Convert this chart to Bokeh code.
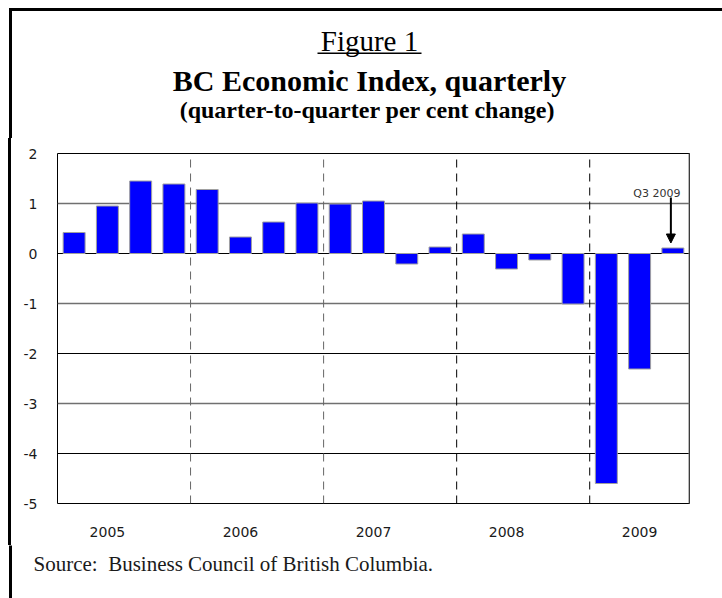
import numpy as np
from bokeh.plotting import figure
from bokeh.layouts import column, row
from bokeh.models import (Range1d, FixedTicker, Grid, Label, Arrow, NormalHead, Span,
                          ColumnDataSource, Div)
from bokeh.core.properties import value
from bokeh.embed import file_html
from bokeh.resources import INLINE

# ---- data ----
years = ["2005", "2006", "2007", "2008", "2009"]
quarters = ["Q1 2005", "Q2 2005", "Q3 2005", "Q4 2005",
            "Q1 2006", "Q2 2006", "Q3 2006", "Q4 2006",
            "Q1 2007", "Q2 2007", "Q3 2007", "Q4 2007",
            "Q1 2008", "Q2 2008", "Q3 2008", "Q4 2008",
            "Q1 2009", "Q2 2009", "Q3 2009"]
values = [0.42, 0.95, 1.45, 1.39,
          1.28, 0.33, 0.63, 1.01,
          0.99, 1.05, -0.21, 0.13,
          0.39, -0.31, -0.13, -1.01,
          -4.60, -2.31, 0.11]
y_ticks = [-5, -4, -3, -2, -1, 0, 1, 2]
y_tick_labels = ["-5", "-4", "-3", "-2", "-1", "0", "1", "2"]

fig_label = "Figure 1"
title_text = "BC Economic Index, quarterly"
subtitle_text = "(quarter-to-quarter per cent change)"
source_text = "Source:\u00a0 Business Council of British Columbia."

n = len(values)
centers = np.arange(n) + 0.5
year_of = [q.split()[1] for q in quarters]
year_starts = [i for i in range(1, n) if year_of[i] != year_of[i - 1]]
year_label_pos = [year_of.index(y) + 1.5 for y in years]

W, H = 722, 598
HEAD_H, FOOT_H = 138, 53
MAIN_H = H - HEAD_H - FOOT_H
STRIP_W = 12
BORDER_X = 10
BORDER_W = 3


def blank(width, height):
    f = figure(width=width, height=height, output_backend="svg", toolbar_location=None,
               x_range=Range1d(0, width), y_range=Range1d(height, 0),
               x_axis_type=None, y_axis_type=None,
               min_border=0, min_border_left=0, min_border_right=0,
               min_border_top=0, min_border_bottom=0,
               background_fill_color="white", border_fill_color="white")
    f.outline_line_color = None
    return f


# ---- header ----
head = blank(W, HEAD_H)
cx = 369
head.text(x=[cx], y=[40], text=[fig_label], text_align="center", text_baseline="alphabetic",
          text_font=value("Liberation Serif"), text_font_size="29px", text_color="black")
head.segment(x0=[cx - 52], x1=[cx + 52], y0=[52.8], y1=[52.8], line_color="black", line_width=1.6)
head.text(x=[cx], y=[79.5], text=[title_text], text_align="center", text_baseline="alphabetic",
          text_font=value("Liberation Serif"), text_font_style="bold",
          text_font_size="30px", text_color="black")
head.text(x=[cx - 2], y=[109.6], text=[subtitle_text], text_align="center",
          text_baseline="alphabetic", text_font=value("Liberation Serif"),
          text_font_style="bold", text_font_size="24px", text_color="black")
head.segment(x0=[BORDER_X - 1.5], x1=[W + 5], y0=[9], y1=[9], line_color="black", line_width=BORDER_W)
head.segment(x0=[BORDER_X], x1=[BORDER_X], y0=[7.5], y1=[HEAD_H + 2], line_color="black",
             line_width=BORDER_W)

# ---- left strip (outer frame edge) ----
g0 = BORDER_X - BORDER_W / 2
g1 = BORDER_X + BORDER_W / 2
strip = Div(text="", width=STRIP_W, height=MAIN_H, margin=0,
            styles={"background": f"linear-gradient(to right, white {g0}px, black {g0}px, "
                                  f"black {g1}px, white {g1}px)"})

# ---- main chart ----
FL, FR, FT, FB = 57 - STRIP_W, 33, 153 - HEAD_H, 95 - FOOT_H
source = ColumnDataSource(dict(x=centers, top=values, q=quarters))

p = figure(width=W - STRIP_W, height=MAIN_H, output_backend="svg", toolbar_location=None,
           x_range=Range1d(0, n), y_range=Range1d(min(y_ticks), max(y_ticks)),
           min_border_left=FL, min_border_right=FR, min_border_top=FT,
           min_border_bottom=FB, background_fill_color="white",
           border_fill_color="white")
p.outline_line_color = "black"
p.outline_line_width = 1
p.xgrid.visible = False
p.ygrid.visible = False

inner = [t for t in y_ticks if min(y_ticks) < t < max(y_ticks)]
gray_ticks = [t for t in inner if t % 2 != 0]
black_ticks = [t for t in inner if t % 2 == 0]
p.add_layout(Grid(dimension=1, ticker=FixedTicker(ticks=gray_ticks),
                  grid_line_color="#707070", grid_line_width=1.5))
p.add_layout(Grid(dimension=1, ticker=FixedTicker(ticks=black_ticks),
                  grid_line_color="black", grid_line_width=1))

ys_lo, ys_hi = min(y_ticks), max(y_ticks)
k = len(year_starts[:2])
p.segment(x0=year_starts[:2], x1=year_starts[:2], y0=[ys_lo] * k, y1=[ys_hi] * k,
          line_color="#666666", line_width=1, line_dash="8 6")
k2 = len(year_starts[2:])
p.segment(x0=year_starts[2:], x1=year_starts[2:], y0=[ys_lo] * k2, y1=[ys_hi] * k2,
          line_color="black", line_width=1, line_dash="8 6")

p.vbar(x="x", top="top", bottom=0, width=0.66, source=source,
       fill_color="#0000ff", line_color="#a0a0a0", line_width=1)

p.add_layout(Span(location=n, dimension="height", line_color="#777777", line_width=2))

p.yaxis.ticker = FixedTicker(ticks=y_ticks)
p.yaxis.major_label_overrides = {t: s for t, s in zip(y_ticks, y_tick_labels)}
p.yaxis.axis_line_color = None
p.yaxis.major_tick_line_color = None
p.yaxis.minor_tick_line_color = None
p.yaxis.major_label_text_font = "DejaVu Sans"
p.yaxis.major_label_text_font_size = "14px"
p.yaxis.major_label_text_color = "#1a1a1a"
p.yaxis.major_label_standoff = 14

p.xaxis.ticker = FixedTicker(ticks=year_label_pos)
p.xaxis.major_label_overrides = {pos: y for pos, y in zip(year_label_pos, years)}
p.xaxis.axis_line_color = None
p.xaxis.major_tick_line_color = None
p.xaxis.minor_tick_line_color = None
p.xaxis.major_label_text_font = "DejaVu Sans"
p.xaxis.major_label_text_font_size = "14px"
p.xaxis.major_label_text_color = "#1a1a1a"
p.xaxis.major_label_standoff = 17

p.add_layout(Label(x=centers[-1], y=1.2, x_offset=-16, text=quarters[-1],
                   text_align="center", text_baseline="alphabetic",
                   text_font="DejaVu Sans", text_font_size="11px", text_color="#333333"))
p.add_layout(Arrow(end=NormalHead(size=9, fill_color="black", line_color="black"),
                   x_start=centers[-1] - 0.06, y_start=1.12,
                   x_end=centers[-1] - 0.06, y_end=values[-1] + 0.1,
                   line_color="black", line_width=2))

# ---- footer ----
foot = blank(W, FOOT_H)
foot.text(x=[33], y=[563.5 - (H - FOOT_H)], text=[source_text], text_align="left",
          text_baseline="alphabetic", text_font=value("Liberation Serif"),
          text_font_size="21px", text_color="#1a1a1a")
foot.segment(x0=[BORDER_X], x1=[BORDER_X], y0=[-2], y1=[FOOT_H + 2], line_color="black",
             line_width=BORDER_W)

layout = column(head, row(strip, p, spacing=0), foot, spacing=0)
open("out.html", "w").write(file_html(layout, INLINE))
